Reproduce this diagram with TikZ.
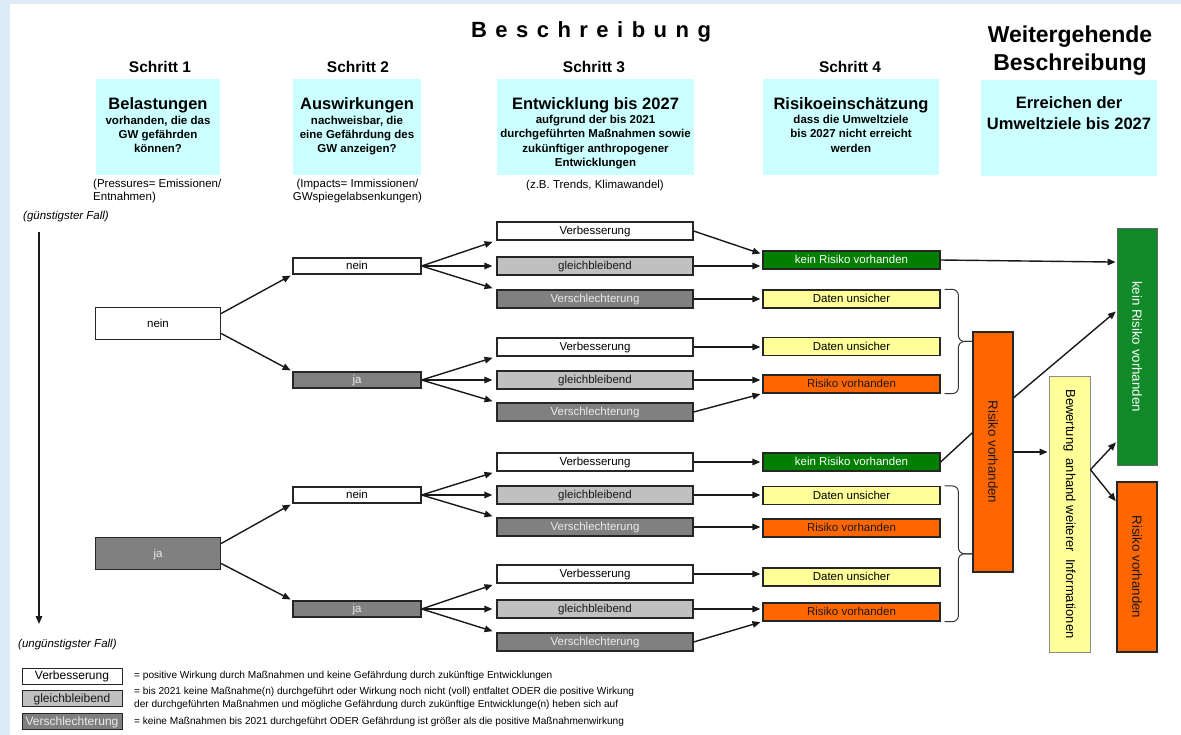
\documentclass[tikz,border=0pt]{standalone}
\usepackage{fontspec}
\setmainfont{Liberation Sans}
\usetikzlibrary{arrows.meta,calc}
\definecolor{bgblue}{HTML}{DDEBF7}
\definecolor{cyanbox}{HTML}{CCFFFF}
\definecolor{dgreen}{HTML}{007F00}
\definecolor{bgreen}{HTML}{108A28}
\definecolor{orng}{HTML}{FF6600}
\definecolor{pyellow}{HTML}{FFFF99}
\definecolor{lgray}{HTML}{C0C0C0}
\definecolor{dgray}{HTML}{808080}
\newcommand{\hdfont}{\fontsize{16.5}{14}\selectfont}
\begin{document}
\begin{tikzpicture}[x=1pt,y=-1pt,
  txt/.style={inner sep=0pt, font=\fontsize{11.5}{13}\selectfont},
  hd/.style={inner sep=0pt, align=center, font=\bfseries\fontsize{11.5}{14.3}\selectfont},
  hbox/.style={fill=cyanbox, inner sep=0pt, minimum height=96pt},
  box/.style={draw=black!85, line width=1.2pt, inner sep=0pt, font=\fontsize{11.5}{13}\selectfont, text height=9pt, text depth=1.2pt},
  c1/.style={box, minimum width=125pt, minimum height=32pt},
  c2/.style={box, minimum width=128pt, minimum height=16pt},
  c3/.style={box, minimum width=196pt, minimum height=18pt},
  c4/.style={box, minimum width=177pt, minimum height=18pt},
  lg/.style={box, line width=1pt, minimum width=100pt, minimum height=16pt, font=\fontsize{12}{14}\selectfont},
  ltxt/.style={inner sep=0pt, font=\fontsize{10.1}{12.3}\selectfont, align=left},
  wf/.style={fill=white},
  lf/.style={fill=lgray, text=black!90},
  df/.style={fill=dgray, text=white!92!black},
  kf/.style={fill=dgreen, text=white},
  yf/.style={fill=pyellow},
  of/.style={fill=orng, text=black!90},
  vbox/.style={draw=black!85, line width=1.2pt, inner sep=0pt, minimum width=40pt},
  vtxt/.style={inner sep=0pt, rotate=-90, font=\fontsize{13.3}{15}\selectfont},
  arr/.style={draw=black!90, line width=1.4pt, -{Triangle[length=8pt,width=6.5pt]}},
  brc/.style={draw=black!80, line width=1pt, rounded corners=6pt}
]
\useasboundingbox (0,0) rectangle (1181,735);
\fill[white] (0,0) rectangle (1181,735);
\fill[bgblue] (0,0) rectangle (10,735);
\fill[bgblue] (0,0) rectangle (1181,4);

% titles
\node[inner sep=0pt, anchor=base, font=\bfseries\fontsize{22}{26}\selectfont] (title) at (591,38)
  {\makebox[240pt][s]{B\hfill e\hfill s\hfill c\hfill h\hfill r\hfill e\hfill i\hfill b\hfill u\hfill n\hfill g}};
\node[inner sep=0pt, anchor=base, font=\bfseries\fontsize{23}{28}\selectfont] (wg1) at (1070,43) {Weitergehende};
\node[inner sep=0pt, anchor=base, font=\bfseries\fontsize{23}{28}\selectfont] (wg2) at (1070,71) {Beschreibung};

\foreach \x/\n in {160/1,358/2,594/3,850/4}
  \node[inner sep=0pt, anchor=base, font=\bfseries\fontsize{15.5}{18}\selectfont] (s\n) at (\x,73) {Schritt \n};

% header boxes
\node[hbox, minimum width=124pt] (h1) at (158,127) {};
\node[hbox, minimum width=128pt] (h2) at (357,127) {};
\node[hbox, minimum width=197pt] (h3) at (595.5,127) {};
\node[hbox, minimum width=176pt] (h4) at (851,127) {};
\node[hbox, minimum width=176pt] (h5) at (1069,128) {};

\node[hd, anchor=north] (ht1) at (158,97) {{\hdfont Belastungen}\\[0.7pt]vorhanden, die das\\GW gefährden\\können?};
\node[hd, anchor=north] (ht2) at (357,97) {{\hdfont Auswirkungen}\\[0.7pt]nachweisbar, die\\eine Gefährdung des\\GW anzeigen?};
\node[hd, anchor=north] (ht3) at (595.5,97) {{\hdfont Entwicklung bis 2027}\\aufgrund der bis 2021\\durchgeführten Maßnahmen sowie\\zukünftiger anthropogener\\Entwicklungen};
\node[hd, anchor=north] (ht4) at (851,97) {{\hdfont Risikoeinschätzung}\\dass die Umweltziele\\bis 2027 nicht erreicht\\werden};
\node[hd, anchor=north, font=\bfseries\fontsize{16.5}{21.5}\selectfont] (ht5) at (1069,96) {Erreichen der\\Umweltziele bis 2027};

% captions
\node[txt, anchor=base west] (cap1a) at (93,188) {(Pressures= Emissionen/};
\node[txt, anchor=base west] (cap1b) at (93,201) {Entnahmen)};
\node[txt, anchor=base] (cap2a) at (357.5,188) {(Impacts= Immissionen/};
\node[txt, anchor=base] (cap2b) at (357.5,201) {GWspiegelabsenkungen)};
\node[txt, anchor=base] (cap3) at (595,189) {(z.B. Trends, Klimawandel)};

\node[txt, anchor=base west, font=\itshape\fontsize{11.5}{13}\selectfont] (gf) at (23,220) {(günstigster Fall)};
\node[txt, anchor=base west, font=\itshape\fontsize{11.5}{13}\selectfont] (uf) at (18,647) {(ungünstigster Fall)};
\coordinate (va1) at (39,232);
\coordinate (va2) at (39,624);
\draw[arr] (va1) -- (va2);

% column 1
\node[c1, wf] (n1) at (158,323.5) {nein};
\node[c1, df] (j1) at (158,553.5) {ja};

% column 2
\node[c2, wf] (a1) at (357,266) {nein};
\node[c2, df] (a2) at (357,380) {ja};
\node[c2, wf] (a3) at (357,495) {nein};
\node[c2, df] (a4) at (357,609) {ja};

% column 3
\node[c3, wf] (v1) at (595,231) {Verbesserung};
\node[c3, lf] (g1) at (595,266) {gleichbleibend};
\node[c3, df] (x1) at (595,299) {Verschlechterung};
\node[c3, wf] (v2) at (595,347) {Verbesserung};
\node[c3, lf] (g2) at (595,380) {gleichbleibend};
\node[c3, df] (x2) at (595,412) {Verschlechterung};
\node[c3, wf] (v3) at (595,462) {Verbesserung};
\node[c3, lf] (g3) at (595,495) {gleichbleibend};
\node[c3, df] (x3) at (595,527) {Verschlechterung};
\node[c3, wf] (v4) at (595,574) {Verbesserung};
\node[c3, lf] (g4) at (595,609) {gleichbleibend};
\node[c3, df] (x4) at (595,642) {Verschlechterung};

% column 4
\node[c4, kf] (k1) at (851.5,260) {kein Risiko vorhanden};
\node[c4, yf] (d1) at (851.5,299) {Daten unsicher};
\node[c4, yf] (d2) at (851.5,346.5) {Daten unsicher};
\node[c4, of] (r1) at (851.5,384) {Risiko vorhanden};
\node[c4, kf] (k2) at (851.5,462) {kein Risiko vorhanden};
\node[c4, yf] (d3) at (851.5,495.5) {Daten unsicher};
\node[c4, of] (r2) at (851.5,528) {Risiko vorhanden};
\node[c4, yf] (d4) at (851.5,577) {Daten unsicher};
\node[c4, of] (r3) at (851.5,612) {Risiko vorhanden};

% right part
\node[vbox, fill=orng, minimum height=240pt] (R) at (993,452) {};
\node[vtxt, text=black!90] (Rt) at (R) {Risiko vorhanden};
\node[vbox, fill=pyellow, draw=black!45, line width=0.8pt, minimum width=41pt, minimum height=276pt] (B) at (1069.5,514) {};
\node[vtxt, font=\fontsize{13}{15}\selectfont] (Bt) at (B) {Bewertung\ \ anhand weiterer\ \ Informationen};
\node[vbox, fill=bgreen, draw=black!60, line width=0.8pt, minimum height=237pt] (K) at (1137,346.5) {};
\node[vtxt, text=white] (Kt) at (K) {kein Risiko vorhanden};
\node[vbox, fill=orng, minimum height=170pt] (R2) at (1137,567) {};
\node[vtxt, text=black!90] (R2t) at (R2) {Risiko vorhanden};

% arrows col1 -> col2
\draw[arr, shorten >=2pt] ($(n1.north east)!0.2!(n1.south east)$) -- (a1.south west);
\draw[arr, shorten >=2pt] ($(n1.north east)!0.8!(n1.south east)$) -- (a2.north west);
\draw[arr, shorten >=2pt] ($(j1.north east)!0.2!(j1.south east)$) -- (a3.south west);
\draw[arr, shorten >=2pt] ($(j1.north east)!0.8!(j1.south east)$) -- (a4.north west);

% arrows col2 -> col3
\foreach \a/\v/\g/\x in {a1/v1/g1/x1, a2/v2/g2/x2, a3/v3/g3/x3, a4/v4/g4/x4} {
  \draw[arr, shorten >=4pt] (\a.east) -- (\v.south west);
  \draw[arr, shorten >=4pt] (\a.east) -- (\a.east -| \g.west);
  \draw[arr, shorten >=4pt] (\a.east) -- (\x.north west);
}

% arrows col3 -> col4
\draw[arr, shorten >=2pt] (v1.east) -- ($(k1.north west)!0.2!(k1.south west)$);
\draw[arr, shorten >=2pt] (g1.east) -- (g1.east -| k1.west);
\draw[arr, shorten >=2pt] (x1.east) -- (x1.east -| d1.west);
\draw[arr, shorten >=2pt] (v2.east) -- (v2.east -| d2.west);
\draw[arr, shorten >=2pt] (g2.east) -- (g2.east -| r1.west);
\draw[arr, shorten >=2pt] (x2.east) -- (r1.south west);
\draw[arr, shorten >=2pt] (v3.east) -- (v3.east -| k2.west);
\draw[arr, shorten >=2pt] (g3.east) -- (g3.east -| d3.west);
\draw[arr, shorten >=2pt] (x3.east) -- (x3.east -| r2.west);
\draw[arr, shorten >=2pt] (v4.east) -- (v4.east -| d4.west);
\draw[arr, shorten >=2pt] (g4.east) -- (g4.east -| r3.west);
\draw[arr, shorten >=2pt] (x4.east) -- (r3.south west);

% braces
\coordinate (b1t) at ([xshift=4pt]d1.north east);
\coordinate (b1b) at ([xshift=4pt]r1.south east);
\coordinate (b1m) at ($(b1t)!0.5!(b1b)$);
\coordinate (b1p) at (b1m -| R.west);
\draw[brc] (b1t) -| ($(b1p)+(-14pt,0)$) -- (b1p);
\draw[brc] (b1b) -| ($(b1p)+(-14pt,0)$) -- (b1p);
\coordinate (b2t) at ([xshift=4pt]d3.north east);
\coordinate (b2b) at ([xshift=4pt]r3.south east);
\coordinate (b2m) at ($(b2t)!0.5!(b2b)$);
\coordinate (b2p) at (b2m -| R.west);
\draw[brc] (b2t) -| ($(b2p)+(-14pt,0)$) -- (b2p);
\draw[brc] (b2b) -| ($(b2p)+(-14pt,0)$) -- (b2p);

% right-side connectors
\draw[arr, shorten >=1pt] (k1.east) -- ($(K.north west)!0.145!(K.south west)$);
\draw[draw=black!90, line width=1.4pt] (k2.east) -- ($(R.north west)!0.42!(R.south west)$);
\draw[arr, shorten >=1pt] ($(R.north east)!0.275!(R.south east)$) -- ($(K.north west)!0.35!(K.south west)$);
\draw[arr, shorten >=1pt] (R.east) -- (R.east -| B.west);
\draw[arr, shorten >=1pt] ($(B.north east)!0.34!(B.south east)$) -- ($(K.north west)!0.9!(K.south west)$);
\draw[arr, shorten >=1pt] ($(B.north east)!0.34!(B.south east)$) -- ($(R2.north west)!0.12!(R2.south west)$);

% legend
\node[lg, wf] (L1) at (72,676) {Verbesserung};
\node[lg, lf] (L2) at (72,698.5) {gleichbleibend};
\node[lg, df] (L3) at (72,721.5) {Verschlechterung};
\node[ltxt, anchor=west] (L1t) at (134,676) {= positive Wirkung durch Maßnahmen und keine Gefährdung durch zukünftige Entwicklungen};
\node[ltxt, anchor=west] (L2t) at (134,698.5) {= bis 2021 keine Maßnahme(n) durchgeführt oder Wirkung noch nicht (voll) entfaltet ODER die positive Wirkung\\der durchgeführten Maßnahmen und mögliche Gefährdung durch zukünftige Entwicklunge(n) heben sich auf};
\node[ltxt, anchor=west] (L3t) at (134,722) {= keine Maßnahmen bis 2021 durchgeführt ODER Gefährdung ist größer als die positive Maßnahmenwirkung};
\end{tikzpicture}
\end{document}
